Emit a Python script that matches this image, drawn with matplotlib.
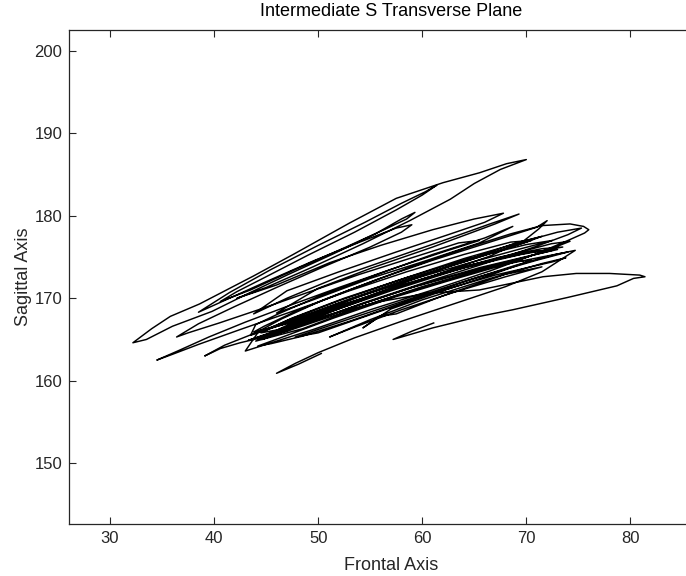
import numpy as np
import matplotlib
matplotlib.use("Agg")
import matplotlib.pyplot as plt

# Trajectory of the marker in the transverse plane (frontal, sagittal), in mm.
# Phase 1: start spike and the dense central band of strokes.
frontal_1 = [50.3, 48.1, 46.0, 47.8, 50.0, 53.5, 58.0, 63.0, 68.0, 71.5, 73.6, 74.7,
             72.8, 69.0, 64.0, 58.5, 53.0, 48.5, 45.5, 44.2,
             46.8, 51.5, 57.0, 62.5, 68.0, 72.0, 74.2,
             72.4, 68.5, 63.0, 57.0, 51.5, 47.0, 43.3,
             45.8, 50.5, 56.0, 61.5, 66.5, 69.8, 71.2, 72.0,
             71.0, 69.5, 66.0, 61.0, 55.5, 50.5, 46.5, 44.3, 43.0,
             45.5, 49.5, 55.0, 61.0, 66.5, 71.0, 74.0, 75.6, 76.0, 75.5, 74.2,
             71.5, 68.5, 64.0, 58.5, 53.0, 48.0, 44.8, 43.8,
             47.0, 52.5, 58.5, 64.0, 69.5, 73.5,
             71.5, 67.5, 62.0, 56.0, 50.5, 46.5, 44.6,
             47.5, 53.0, 59.0, 65.0, 70.0, 72.5,
             70.5, 66.0, 60.5, 54.5, 49.0, 45.5, 44.0]
sagittal_1 = [163.3, 162.0, 160.9, 162.1, 163.4, 165.2, 167.2, 169.3, 171.4, 173.2, 174.9, 175.8,
              175.3, 174.0, 172.0, 169.6, 167.2, 165.4, 164.5, 164.2,
              165.4, 167.6, 170.0, 172.1, 174.1, 175.8, 176.9,
              176.6, 175.3, 173.3, 170.9, 168.5, 166.4, 164.9,
              166.0, 168.2, 170.6, 172.9, 175.1, 177.0, 178.4, 179.4,
              178.6, 178.0, 176.6, 174.6, 172.2, 169.8, 167.5, 166.0, 163.6,
              164.6, 166.2, 168.6, 171.0, 173.3, 175.4, 177.0, 177.9, 178.3, 178.7, 179.0,
              178.8, 177.8, 176.0, 173.6, 171.0, 168.5, 166.6, 165.9,
              166.9, 169.3, 171.7, 173.7, 175.3, 176.2,
              176.0, 175.0, 173.1, 170.6, 168.0, 166.0, 165.0,
              166.3, 168.8, 171.3, 173.4, 175.0, 175.8,
              175.6, 174.4, 172.5, 170.0, 167.6, 165.8, 164.8]

# Phase 2: strokes along the lower edge, then the lower-left and upper strokes.
frontal_2 = [48.5, 54.0, 60.0, 66.0, 71.5, 74.0,
             71.0, 65.5, 59.5, 53.5, 49.5, 47.8,
             50.0, 55.0, 61.0, 67.0, 72.5, 73.8,
             71.5, 66.0, 60.0, 55.0, 51.1,
             53.5, 58.0, 63.0, 68.0, 71.5,
             68.0, 62.0, 57.5, 55.9, 54.3,
             57.0, 62.0, 67.0, 70.5,
             68.5, 63.5, 57.5, 51.5, 47.0, 44.5, 42.5, 40.6, 39.1,
             41.0, 44.0, 48.0, 53.0, 58.5, 64.0, 68.0, 70.5,
             68.5, 64.0, 58.5, 53.0, 47.5, 42.5, 38.5, 36.0, 34.5,
             36.5, 39.5, 43.0, 47.0, 52.0, 57.0, 62.0, 65.5,
             63.5, 59.0, 54.0, 49.0, 44.5, 40.5, 37.5, 36.4,
             38.5, 42.0, 46.0, 50.5, 55.0, 58.0, 59.0,
             57.5, 54.0, 49.5, 45.0, 41.5, 38.5,
             41.5, 45.5, 50.0, 54.5, 58.0, 60.3, 61.4,
             60.0, 57.5, 53.5, 49.0, 45.0, 42.2, 40.6,
             43.5, 48.0, 52.5, 56.5, 58.5, 59.3,
             58.0, 55.5, 51.5, 47.0, 43.0, 39.8, 36.0, 33.5, 32.2,
             34.0, 35.8, 38.6, 43.8, 47.6, 53.0, 57.5, 62.0, 65.5, 68.1, 70.0,
             67.5, 65.0, 62.7, 58.8, 54.3, 49.5, 45.0, 42.2]
sagittal_2 = [166.3, 168.9, 171.4, 173.6, 175.0, 175.6,
              174.6, 172.6, 170.2, 167.7, 166.0, 165.3,
              165.8, 168.0, 170.6, 172.8, 174.4, 174.9,
              174.2, 172.2, 169.8, 167.4, 165.3,
              166.5, 168.6, 170.7, 172.6, 173.8,
              172.9, 170.3, 168.1, 167.8, 166.4,
              168.7, 170.9, 173.0, 174.6,
              174.4, 172.6, 170.3, 167.9, 166.0, 165.2, 164.6, 163.9, 163.0,
              164.3, 165.8, 167.6, 169.9, 172.3, 174.4, 176.0, 177.0,
              176.8, 175.3, 173.2, 170.9, 168.4, 166.2, 164.4, 163.2, 162.5,
              163.6, 165.3, 167.1, 169.0, 171.3, 173.5, 175.6, 177.0,
              176.7, 174.9, 172.9, 170.7, 168.7, 167.0, 165.8, 165.3,
              166.9, 169.0, 171.3, 173.8, 176.2, 178.0, 178.9,
              178.5, 176.8, 174.5, 172.0, 170.0, 168.3,
              170.7, 173.5, 176.4, 179.2, 181.5, 182.9, 183.7,
              182.5, 180.7, 178.0, 175.2, 172.6, 170.8, 169.6,
              171.0, 173.6, 176.1, 178.4, 179.6, 180.4,
              179.6, 177.8, 175.4, 172.8, 170.4, 168.4, 166.6, 165.0, 164.6,
              166.3, 167.8, 169.3, 172.7, 175.3, 179.1, 182.1, 184.0, 185.2, 186.3, 186.8,
              185.6, 183.9, 182.0, 179.4, 176.6, 173.8, 171.3, 170.0]

# Phase 3: upper-middle strokes, more band strokes and the long final stroke.
frontal_3 = [46.0, 51.1, 56.0, 61.0, 65.0, 67.8,
             66.0, 62.5, 57.5, 52.0, 47.0, 43.8,
             47.0, 52.0, 57.5, 62.5, 66.5, 69.3,
             67.0, 61.0, 55.0, 50.0, 46.0,
             49.5, 55.0, 60.5, 65.5, 68.7,
             66.0, 61.0, 55.5, 50.0, 46.0, 44.0, 43.5,
             47.0, 52.0, 58.0, 64.0, 69.5, 72.5,
             70.0, 64.5, 58.5, 52.5, 47.5, 44.5,
             48.0, 53.5, 59.5, 65.5, 70.5, 73.0,
             70.0, 64.5, 58.5, 52.5, 47.5, 44.8,
             48.5, 54.5, 60.5, 66.0, 71.0, 74.0, 75.3,
             73.0, 69.5, 64.0, 58.0, 52.0, 47.0, 45.0,
             49.0, 54.0, 60.0, 65.5, 70.0, 71.5,
             69.0, 64.0, 58.5, 53.0, 48.5, 46.0,
             51.0, 56.0, 60.5, 65.5, 71.6, 74.8, 78.0, 80.9, 81.4,
             80.3, 78.7, 74.0, 68.7, 65.5, 61.0, 57.2, 59.0, 61.1]
sagittal_3 = [171.6, 174.3, 176.4, 178.3, 179.6, 180.3,
              179.2, 177.7, 175.6, 173.2, 170.9, 168.1,
              170.0, 172.6, 175.0, 177.2, 179.0, 180.2,
              179.0, 176.2, 173.6, 171.2, 168.2,
              169.8, 172.4, 174.6, 176.7, 178.7,
              177.3, 175.3, 172.8, 170.2, 168.0, 166.8, 165.5,
              167.0, 169.4, 171.9, 174.1, 176.0, 177.0,
              176.5, 174.8, 172.5, 170.0, 167.6, 165.8,
              166.6, 169.0, 171.5, 173.7, 175.2, 175.9,
              175.6, 174.0, 171.8, 169.2, 167.0, 165.4,
              166.8, 169.5, 172.0, 174.2, 176.3, 177.7, 178.5,
              178.0, 176.8, 174.8, 172.3, 169.7, 167.3, 166.2,
              167.8, 170.2, 172.8, 175.0, 176.8, 177.5,
              176.7, 174.5, 172.0, 169.4, 167.2, 166.1,
              168.0, 169.6, 170.6, 171.0, 172.6, 173.0, 173.0, 172.8, 172.6,
              172.4, 171.5, 170.1, 168.6, 167.8, 166.4, 165.0, 166.0, 167.0]

frontal = np.array(frontal_1 + frontal_2 + frontal_3)
sagittal = np.array(sagittal_1 + sagittal_2 + sagittal_3)

x_ticks = [30, 40, 50, 60, 70, 80]
y_ticks = [150, 160, 170, 180, 190, 200]

plt.rcParams["font.family"] = ["Liberation Sans", "DejaVu Sans"]
axis_grey = "#262626"

fig = plt.figure(figsize=(6.86, 5.76), dpi=100)
# the box runs on past the right edge of the figure
ax = fig.add_axes([0.101, 0.0903, 0.9383, 0.8576])

ax.plot(frontal, sagittal, color="black", linewidth=1.05, solid_joinstyle="round")

ax.set_xlim(26.09, 87.93)
ax.set_ylim(142.64, 202.5)
ax.set_xticks(x_ticks)
ax.set_yticks(y_ticks)
ax.tick_params(direction="in", length=5, width=0.8, colors=axis_grey,
               labelsize=12, top=True, right=True, pad=5)
for side in ax.spines.values():
    side.set_color(axis_grey)
    side.set_linewidth(0.9)

ax.set_title("Intermediate S Transverse Plane", fontsize=13, color="black", pad=10)
ax.set_xlabel("Frontal Axis", fontsize=13, color=axis_grey, labelpad=8)
ax.set_ylabel("Sagittal Axis", fontsize=13, color=axis_grey, labelpad=2)

fig.savefig("out.png", dpi=100)
